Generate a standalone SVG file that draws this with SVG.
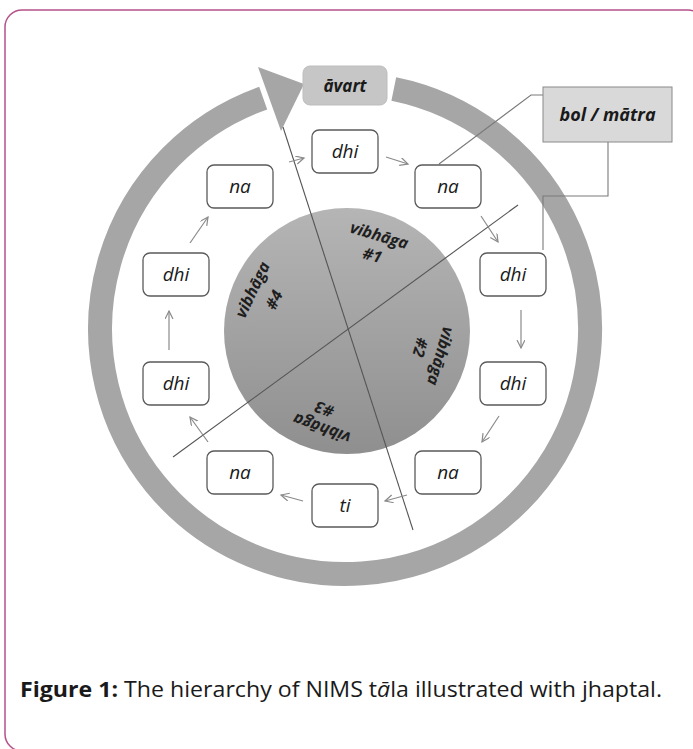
<svg xmlns="http://www.w3.org/2000/svg" width="693" height="749" viewBox="0 0 693 749">
<style>
.frame{fill:#fff;stroke:#b5528a;stroke-width:1.5}
.box{fill:#fff;stroke:#5a5a5a;stroke-width:1.3}
.bt{font-family:"Open Sans","DejaVu Sans",sans-serif;font-style:italic;font-size:19px;fill:#1a1a1a;text-anchor:middle}
.vb{font-family:"Open Sans","DejaVu Sans",sans-serif;font-style:italic;font-weight:bold;font-size:16px;fill:#1e1e1e;text-anchor:middle}
.lbl{font-family:"Open Sans","DejaVu Sans",sans-serif;font-style:italic;font-weight:bold;fill:#1a1a1a;text-anchor:middle}
.arr{fill:none;stroke:#8a8a8a;stroke-width:1.2;marker-end:url(#ah)}
.div{stroke:#555;stroke-width:1.1;fill:none}
.call{stroke:#7a7a7a;stroke-width:1.1;fill:none}
.cap{font-family:"Open Sans","Liberation Sans",sans-serif;font-size:21px;fill:#1a1a1a}
</style>
<defs>
<marker id="ah" markerUnits="userSpaceOnUse" markerWidth="10" markerHeight="10" refX="8" refY="4" orient="auto">
<path d="M0,0 L8,4 L0,8" fill="none" stroke="#8a8a8a" stroke-width="1.2"/>
</marker>
<linearGradient id="disk" x1="0" y1="0" x2="0" y2="1">
<stop offset="0" stop-color="#b5b5b5"/>
<stop offset="1" stop-color="#8f8f8f"/>
</linearGradient>
</defs>
<rect class="frame" x="5" y="10" width="700" height="741" rx="17"/>

<g id="cycle">
<path d="M393.8,88.9 A245,245 0 1 1 263.2,98.1" fill="none" stroke="#a6a6a6" stroke-width="24"/>
<polygon points="258,67 304,84 281,131" fill="#a6a6a6"/>
</g>

<g id="disk">
<circle cx="347" cy="331" r="123" fill="url(#disk)"/>
</g>

<g id="dividers">
<line class="div" x1="283" y1="127" x2="413" y2="530"/>
<line class="div" x1="173" y1="457" x2="518" y2="205"/>
</g>

<g id="vibhaga1" transform="translate(379,236) rotate(16.5)"><text class="vb" x="0" y="5">vibhāga</text><text class="vb" x="-1" y="26">#1</text></g>
<g id="vibhaga2" transform="translate(440,356) rotate(106)"><text class="vb" x="0" y="5">vibhāga</text><text class="vb" x="-3" y="27">#2</text></g>
<g id="vibhaga3" transform="translate(322,428) rotate(200)"><text class="vb" x="0" y="5">vibhāga</text><text class="vb" x="4" y="24">#3</text></g>
<g id="vibhaga4" transform="translate(253,290) rotate(-64.6)"><text class="vb" x="0" y="5">vibhāga</text><text class="vb" x="0" y="29">#4</text></g>

<g id="connectors">
<line class="arr" x1="289" y1="162" x2="304" y2="158"/>
<line class="arr" x1="386" y1="157" x2="408" y2="164"/>
<line class="arr" x1="481" y1="216" x2="498" y2="242"/>
<line class="arr" x1="521" y1="310" x2="521" y2="348"/>
<line class="arr" x1="499" y1="416" x2="482" y2="442"/>
<line class="arr" x1="407" y1="495" x2="385" y2="501"/>
<line class="arr" x1="303" y1="501" x2="281" y2="495"/>
<line class="arr" x1="208" y1="442" x2="190" y2="417"/>
<line class="arr" x1="169" y1="350" x2="169" y2="311"/>
<line class="arr" x1="190" y1="243" x2="208" y2="217"/>
<polyline class="call" points="543,95 531,95 439,164"/>
<polyline class="call" points="608,142 608,196 543,196 543,250"/>
</g>

<g id="avart"><rect x="303" y="66" width="84" height="39" rx="7" fill="#c6c6c6" stroke="#bdbdbd" stroke-width="1"/><text class="lbl" x="345" y="92" font-size="17">āvart</text></g>
<g id="bolmatra"><rect x="543" y="87" width="129" height="55" fill="#d9d9d9" stroke="#8a8a8a" stroke-width="1"/><text class="lbl" x="607.5" y="121" font-size="18">bol / mātra</text></g>

<g id="n1"><rect class="box" x="312" y="130" width="66" height="43" rx="7"/><text class="bt" x="345" y="158">dhi</text></g>
<g id="n2"><rect class="box" x="415" y="165" width="66" height="43" rx="7"/><text class="bt" x="448" y="193">na</text></g>
<g id="n3"><rect class="box" x="480" y="253" width="66" height="43" rx="7"/><text class="bt" x="513" y="281">dhi</text></g>
<g id="n4"><rect class="box" x="480" y="362" width="66" height="43" rx="7"/><text class="bt" x="513" y="390">dhi</text></g>
<g id="n5"><rect class="box" x="415" y="451" width="66" height="43" rx="7"/><text class="bt" x="448" y="479">na</text></g>
<g id="n6"><rect class="box" x="312" y="484" width="66" height="43" rx="7"/><text class="bt" x="345" y="512">ti</text></g>
<g id="n7"><rect class="box" x="207" y="451" width="66" height="43" rx="7"/><text class="bt" x="240" y="479">na</text></g>
<g id="n8"><rect class="box" x="143" y="362" width="66" height="43" rx="7"/><text class="bt" x="176" y="390">dhi</text></g>
<g id="n9"><rect class="box" x="143" y="253" width="66" height="43" rx="7"/><text class="bt" x="176" y="281">dhi</text></g>
<g id="n10"><rect class="box" x="207" y="165" width="66" height="43" rx="7"/><text class="bt" x="240" y="193">na</text></g>

<text class="cap" x="20" y="697" textLength="642" lengthAdjust="spacingAndGlyphs"><tspan font-weight="bold">Figure 1:</tspan> The hierarchy of NIMS t<tspan font-style="italic">ā</tspan>la illustrated with jhaptal.</text>
</svg>
